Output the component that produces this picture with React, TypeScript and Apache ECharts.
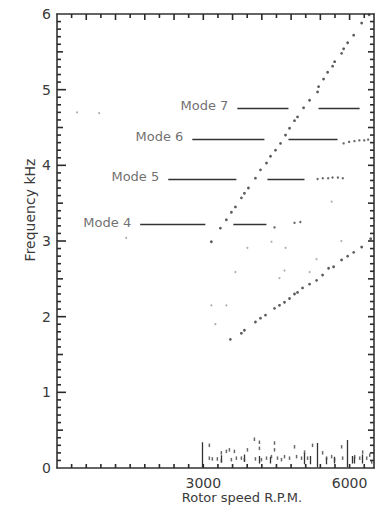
import React, { useEffect, useRef } from "react";
import * as echarts from "echarts";

// ---- data (rpm, kHz) ----
const steepLine: number[][] = [
  [3165, 2.99], [3350, 3.17], [3473, 3.28], [3576, 3.38], [3658, 3.45], [3781, 3.57],
  [3843, 3.63], [3925, 3.70], [4069, 3.83], [4172, 3.94], [4296, 4.03], [4378, 4.12],
  [4480, 4.20], [4583, 4.29], [4686, 4.40], [4768, 4.49], [4870, 4.59], [4932, 4.64],
  [5056, 4.76], [5179, 4.86], [5343, 4.97], [5364, 5.04], [5466, 5.14], [5549, 5.23],
  [5651, 5.31], [5693, 5.37], [5836, 5.48], [5877, 5.54], [5960, 5.62], [6083, 5.72],
  [6247, 5.88], [6400, 5.99],
];
const lowerLine: number[][] = [
  [3555, 1.70], [3781, 1.78], [3843, 1.82], [4069, 1.93], [4172, 1.98], [4275, 2.02],
  [4460, 2.11], [4562, 2.15], [4665, 2.19], [4768, 2.24], [4870, 2.30], [4932, 2.32],
  [5035, 2.38], [5179, 2.43], [5323, 2.48], [5446, 2.55], [5569, 2.64], [5672, 2.66],
  [5836, 2.75], [5960, 2.80], [6083, 2.85], [6247, 2.92], [6432, 3.03],
];
const modeClusters: number[][] = [
  [4460, 3.18], [4870, 3.24], [4990, 3.25],
  [5343, 3.82], [5450, 3.83], [5560, 3.83], [5650, 3.84], [5760, 3.84], [5860, 3.83],
  [5877, 4.29], [5990, 4.31], [6100, 4.32], [6200, 4.33], [6300, 4.33], [6380, 4.34],
];
const strayDots: number[][] = [
  [3165, 2.15], [3247, 1.90], [3658, 2.59], [4686, 2.91], [3905, 2.91], [3473, 2.15],
  [4398, 2.99], [4562, 2.51], [4665, 2.61], [5631, 3.52], [411, 4.70], [863, 4.69],
  [1418, 3.04], [5180, 2.59], [5320, 2.76], [5830, 3.00],
];
const noiseDots: number[][] = [
  [3124, 0.30], [3124, 0.13], [3185, 0.12], [3288, 0.12], [3370, 0.20], [3370, 0.09],
  [3473, 0.22], [3535, 0.24], [3576, 0.11], [3638, 0.22], [3678, 0.13], [3781, 0.13],
  [3843, 0.11], [3905, 0.24], [4048, 0.38], [4069, 0.12], [4151, 0.34], [4151, 0.26],
  [4192, 0.11], [4296, 0.13], [4398, 0.15], [4460, 0.33], [4460, 0.24], [4521, 0.13],
  [4603, 0.11], [4665, 0.15], [4768, 0.13], [4870, 0.28], [4912, 0.15], [5014, 0.13],
  [5076, 0.21], [5138, 0.13], [5240, 0.30], [5446, 0.20], [5528, 0.13], [5631, 0.15],
  [5692, 0.11], [5836, 0.28], [5857, 0.13], [6104, 0.15], [6207, 0.13], [6268, 0.21],
  [6350, 0.13], [6412, 0.17], [6453, 0.08],
];
// vertical noise bars: [rpm, low kHz, high kHz]
const noiseBars: number[][] = [
  [2980, 0.01, 0.34], [5343, 0.01, 0.33], [5960, 0.01, 0.37],
  [3370, 0.08, 0.17], [3843, 0.08, 0.18], [4151, 0.06, 0.16], [4378, 0.06, 0.15],
  [5076, 0.05, 0.20], [5199, 0.05, 0.16], [5528, 0.05, 0.14], [5692, 0.06, 0.15],
  [6063, 0.06, 0.16], [6104, 0.06, 0.15], [6250, 0.06, 0.18],
];

// mode guide lines
const modeNames = ["Mode 4", "Mode 5", "Mode 6", "Mode 7"];
const modeFreq = [3.22, 3.82, 4.35, 4.76];
const modeSegA: number[][] = [[1705, 3041], [2281, 3678], [2774, 4253], [3698, 4746]];
const modeSegB: number[][] = [[3616, 4294], [4315, 5075], [4746, 5753], [5363, 6205]];

const xTickLabels = [3000, 6000];
const yTickLabels = [0, 1, 2, 3, 4, 5, 6];

// axis ranges and tick spacing of the frame
const X_MAX = 6500;
const Y_MAX = 6;
const xMinorStep = 300;   // small ticks on bottom and top
const xTopStep = 600;     // longer ticks on top
const yMinorStep = 0.1;   // small ticks left/right
const yHalfStep = 0.5;    // medium ticks
const yMajorStep = 1;     // long ticks (left)

const FONT = "DejaVu Sans";
const INK = "#3a3a3a";
const TICK = "#2a2a2a";

function buildTicks() {
  // [value, side(0 bottom,1 top,2 left,3 right), length px]
  const t: number[][] = [];
  const nx = Math.round(X_MAX / xMinorStep);
  for (let i = 1; i <= nx; i++) {
    const v = i * xMinorStep;
    t.push([v, 0, 4]);
    const isTop = Math.abs(v / xTopStep - Math.round(v / xTopStep)) < 1e-6;
    t.push([v, 1, isTop ? 6 : 4]);
  }
  const ny = Math.round(Y_MAX / yMinorStep);
  for (let i = 1; i < ny; i++) {
    const v = +(i * yMinorStep).toFixed(2);
    const major = Math.abs(v / yMajorStep - Math.round(v / yMajorStep)) < 1e-6;
    const half = Math.abs(v / yHalfStep - Math.round(v / yHalfStep)) < 1e-6;
    t.push([v, 2, major ? 9 : half ? 6 : 4]);
    t.push([v, 3, half ? 6 : 4]);
  }
  return t;
}

export default function App() {
  const ref = useRef<HTMLDivElement>(null);
  useEffect(() => {
    if (!ref.current) return;
    const chart = echarts.init(ref.current, undefined, { renderer: "svg" });

    const segs: any[] = [];
    modeFreq.forEach((f, i) => {
      segs.push({ coords: [[modeSegA[i][0], f], [modeSegA[i][1], f]] });
      segs.push({ coords: [[modeSegB[i][0], f], [modeSegB[i][1], f]] });
    });
    const bars = noiseBars.map((b) => ({ coords: [[b[0], b[1]], [b[0], b[2]]] }));
    const labels = modeNames.map((n, i) => ({ name: n, value: [modeSegA[i][0], modeFreq[i]] }));

    const renderTick = (params: any, api: any) => {
      const v = api.value(0);
      const side = api.value(1);
      const len = api.value(2);
      let shape: any;
      if (side === 0) {
        const p = api.coord([v, 0]);
        shape = { x1: p[0], y1: p[1], x2: p[0], y2: p[1] - len };
      } else if (side === 1) {
        const p = api.coord([v, Y_MAX]);
        shape = { x1: p[0], y1: p[1], x2: p[0], y2: p[1] + len };
      } else if (side === 2) {
        const p = api.coord([0, v]);
        shape = { x1: p[0], y1: p[1], x2: p[0] + len, y2: p[1] };
      } else {
        const p = api.coord([X_MAX, v]);
        shape = { x1: p[0], y1: p[1], x2: p[0] - len, y2: p[1] };
      }
      return { type: "line", shape, style: { stroke: TICK, lineWidth: 1.6 } };
    };

    chart.setOption({
      animation: false,
      grid: { left: 57, top: 14, width: 317, height: 454 },
      xAxis: [
        {
          type: "value", position: "bottom", min: 0, max: X_MAX, interval: 3000,
          axisLine: { show: true, onZero: false, lineStyle: { color: "#333", width: 1.6 } },
          axisTick: { show: false },
          splitLine: { show: false },
          axisLabel: {
            formatter: (v: number) => (xTickLabels.includes(v) ? String(v) : ""),
            color: INK, fontFamily: FONT, fontSize: 14, margin: 8,
          },
        },
        {
          type: "value", position: "top", min: 0, max: X_MAX, interval: 3000,
          axisLine: { show: true, onZero: false, lineStyle: { color: "#333", width: 1.6 } },
          axisTick: { show: false }, splitLine: { show: false }, axisLabel: { show: false },
        },
      ],
      yAxis: [
        {
          type: "value", position: "left", min: 0, max: Y_MAX, interval: 1,
          axisLine: { show: true, onZero: false, lineStyle: { color: "#333", width: 1.6 } },
          axisTick: { show: false },
          splitLine: { show: false },
          axisLabel: {
            formatter: (v: number) => (yTickLabels.includes(v) ? String(v) : ""),
            color: INK, fontFamily: FONT, fontSize: 14, margin: 6,
          },
        },
        {
          type: "value", position: "right", min: 0, max: Y_MAX, interval: 1,
          axisLine: { show: true, onZero: false, lineStyle: { color: "#333", width: 1.6 } },
          axisTick: { show: false }, splitLine: { show: false }, axisLabel: { show: false },
        },
      ],
      series: [
        { type: "custom", data: buildTicks(), renderItem: renderTick, clip: false, z: 5 },
        {
          type: "lines", coordinateSystem: "cartesian2d", data: segs,
          lineStyle: { color: "#333", width: 1.3, opacity: 1 }, silent: true,
        },
        {
          type: "lines", coordinateSystem: "cartesian2d", data: bars,
          lineStyle: { color: "#333", width: 1.3, opacity: 1 }, silent: true,
        },
        {
          type: "scatter", data: labels, symbolSize: 0, silent: true,
          label: {
            show: true, position: "left", distance: 9, formatter: (p: any) => p.name,
            color: "#4a4a4a", fontFamily: FONT, fontSize: 13, offset: [0, -2],
          },
        },
        { type: "scatter", data: steepLine, symbolSize: 2.8, itemStyle: { color: "#333" } },
        { type: "scatter", data: lowerLine, symbolSize: 2.8, itemStyle: { color: "#333" } },
        { type: "scatter", data: modeClusters, symbolSize: 2.4, itemStyle: { color: "#444" } },
        { type: "scatter", data: strayDots, symbolSize: 2, itemStyle: { color: "#999" } },
        {
          type: "scatter", data: noiseDots, symbol: "rect", symbolSize: [1.5, 3.5],
          itemStyle: { color: "#444" },
        },
      ],
      graphic: [
        {
          type: "text", x: 30, y: 210, rotation: Math.PI / 2,
          style: {
            text: "Frequency kHz", fill: INK, font: `14px "${FONT}"`,
            align: "center", verticalAlign: "middle",
          },
        },
        {
          type: "text", x: 242, y: 497,
          style: {
            text: "Rotor speed R.P.M.", fill: INK, font: `13px "${FONT}"`,
            align: "center", verticalAlign: "middle",
          },
        },
      ],
    });
    return () => chart.dispose();
  }, []);
  return <div ref={ref} style={{ width: 377, height: 510, position: "absolute", left: 0, top: 0 }} />;
}
